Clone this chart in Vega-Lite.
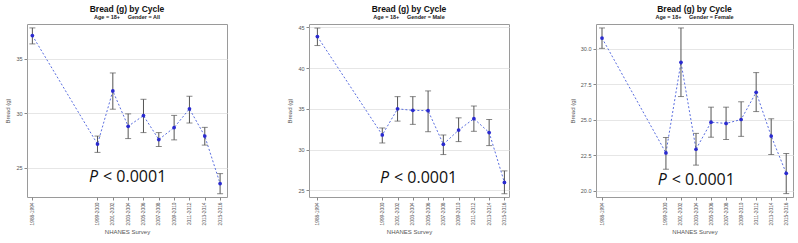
{
  "$schema": "https://vega.github.io/schema/vega-lite/v6.json",
  "background": "white",
  "padding": {"left": 4, "top": 4, "right": 2, "bottom": 4},
  "spacing": 58,
  "config": {
    "font": "Liberation Sans",
    "view": {"stroke": "#9a9a9a", "strokeWidth": 1},
    "axis": {"domain": false, "tickColor": "#888", "tickSize": 3, "labelFontSize": 5.5, "labelColor": "#555", "titleFontSize": 6, "titleFontWeight": "normal", "titleColor": "#555", "gridColor": "#e6e6e6", "labelPadding": 2, "labelOverlap": false},
    "title": {"fontSize": 8.5, "fontWeight": "bold", "subtitleFontSize": 5.5, "subtitleFontWeight": "bold", "subtitleColor": "#222", "color": "#111", "offset": 4, "subtitlePadding": 1, "anchor": "middle"}
  },
  "datasets": {
    "bread": [
      {"panel": "All", "cycle": "1988-1994", "mid": 1991, "mean": 37.14, "lo": 36.37, "hi": 37.84},
      {"panel": "All", "cycle": "1999-2000", "mid": 1999.5, "mean": 27.16, "lo": 26.4, "hi": 27.9},
      {"panel": "All", "cycle": "2001-2002", "mid": 2001.5, "mean": 32.05, "lo": 30.37, "hi": 33.7},
      {"panel": "All", "cycle": "2003-2004", "mid": 2003.5, "mean": 28.8, "lo": 27.67, "hi": 29.94},
      {"panel": "All", "cycle": "2005-2006", "mid": 2005.5, "mean": 29.78, "lo": 28.22, "hi": 31.28},
      {"panel": "All", "cycle": "2007-2008", "mid": 2007.5, "mean": 27.58, "lo": 26.94, "hi": 28.22},
      {"panel": "All", "cycle": "2009-2010", "mid": 2009.5, "mean": 28.68, "lo": 27.55, "hi": 29.8},
      {"panel": "All", "cycle": "2011-2012", "mid": 2011.5, "mean": 30.4, "lo": 29.1, "hi": 31.56},
      {"panel": "All", "cycle": "2013-2014", "mid": 2013.5, "mean": 27.9, "lo": 27.07, "hi": 28.7},
      {"panel": "All", "cycle": "2015-2016", "mid": 2015.5, "mean": 23.53, "lo": 22.6, "hi": 24.45},
      {"panel": "Male", "cycle": "1988-1994", "mid": 1991, "mean": 43.86, "lo": 42.76, "hi": 44.9},
      {"panel": "Male", "cycle": "1999-2000", "mid": 1999.5, "mean": 31.8, "lo": 30.82, "hi": 32.66},
      {"panel": "Male", "cycle": "2001-2002", "mid": 2001.5, "mean": 35.0, "lo": 33.5, "hi": 36.5},
      {"panel": "Male", "cycle": "2003-2004", "mid": 2003.5, "mean": 34.82, "lo": 33.1, "hi": 36.5},
      {"panel": "Male", "cycle": "2005-2006", "mid": 2005.5, "mean": 34.78, "lo": 32.2, "hi": 37.2},
      {"panel": "Male", "cycle": "2007-2008", "mid": 2007.5, "mean": 30.66, "lo": 29.4, "hi": 31.8},
      {"panel": "Male", "cycle": "2009-2010", "mid": 2009.5, "mean": 32.4, "lo": 30.99, "hi": 33.9},
      {"panel": "Male", "cycle": "2011-2012", "mid": 2011.5, "mean": 33.8, "lo": 32.25, "hi": 35.35},
      {"panel": "Male", "cycle": "2013-2014", "mid": 2013.5, "mean": 32.1, "lo": 30.5, "hi": 33.7},
      {"panel": "Male", "cycle": "2015-2016", "mid": 2015.5, "mean": 25.98, "lo": 24.6, "hi": 27.4},
      {"panel": "Female", "cycle": "1988-1994", "mid": 1991, "mean": 30.77, "lo": 30.04, "hi": 31.48},
      {"panel": "Female", "cycle": "1999-2000", "mid": 1999.5, "mean": 22.66, "lo": 21.51, "hi": 23.75},
      {"panel": "Female", "cycle": "2001-2002", "mid": 2001.5, "mean": 29.06, "lo": 26.64, "hi": 31.48},
      {"panel": "Female", "cycle": "2003-2004", "mid": 2003.5, "mean": 22.92, "lo": 21.8, "hi": 24.04},
      {"panel": "Female", "cycle": "2005-2006", "mid": 2005.5, "mean": 24.83, "lo": 23.77, "hi": 25.89},
      {"panel": "Female", "cycle": "2007-2008", "mid": 2007.5, "mean": 24.74, "lo": 23.61, "hi": 25.89},
      {"panel": "Female", "cycle": "2009-2010", "mid": 2009.5, "mean": 25.02, "lo": 23.83, "hi": 26.27},
      {"panel": "Female", "cycle": "2011-2012", "mid": 2011.5, "mean": 26.94, "lo": 25.58, "hi": 28.33},
      {"panel": "Female", "cycle": "2013-2014", "mid": 2013.5, "mean": 23.85, "lo": 22.55, "hi": 25.07},
      {"panel": "Female", "cycle": "2015-2016", "mid": 2015.5, "mean": 21.22, "lo": 19.79, "hi": 22.62}
    ],
    "pval": [
      {"panel": "All", "px": 1998.4, "py": 23.68, "p": "P", "rest": "< 0.0001"},
      {"panel": "Male", "px": 1999.2, "py": 25.9, "p": "P", "rest": "< 0.0001"},
      {"panel": "Female", "px": 1998.4, "py": 20.37, "p": "P", "rest": "< 0.0001"}
    ]
  },
  "hconcat": [
    {
      "width": 200, "height": 173,
      "title": {"text": "Bread (g) by Cycle", "subtitle": "Age = 18+\u00a0\u00a0\u00a0\u00a0\u00a0Gender = All"},
      "layer": [
        {
          "data": {"name": "bread"},
          "transform": [{"filter": "datum.panel === 'All'"}],
          "mark": {"type": "line", "color": "#5a6ee0", "strokeDash": [2, 2], "strokeWidth": 1},
          "encoding": {
            "x": {"field": "mid", "type": "quantitative", "title": "NHANES Survey", "scale": {"domain": [1990.3, 2016.4], "nice": false, "zero": false},
              "axis": {"values": [1991, 1999.5, 2001.5, 2003.5, 2005.5, 2007.5, 2009.5, 2011.5, 2013.5, 2015.5], "tickCount": 30, "labelFontSize": 4.8, "labelAngle": -90, "labelOverlap": false, "labelBound": false, "labelFlush": false, "labelExpr": "datum.value == 1991 ? '1988-1994' : (floor(datum.value) + '-' + (floor(datum.value) + 1))", "grid": false, "titlePadding": 4}},
            "y": {"field": "mean", "type": "quantitative", "title": "Bread (g)", "scale": {"domain": [22.3, 38.2], "nice": false, "zero": false},
              "axis": {"values": [25, 30, 35], "grid": true, "titlePadding": 5}}
          }
        },
        {
          "data": {"name": "bread"},
          "transform": [{"filter": "datum.panel === 'All'"}],
          "mark": {"type": "errorbar", "ticks": {"size": 6}, "color": "#555", "thickness": 1},
          "encoding": {
            "x": {"field": "mid", "type": "quantitative", "title": "NHANES Survey"},
            "y": {"field": "lo", "type": "quantitative", "title": "Bread (g)"},
            "y2": {"field": "hi"}
          }
        },
        {
          "data": {"name": "bread"},
          "transform": [{"filter": "datum.panel === 'All'"}],
          "mark": {"type": "point", "filled": true, "color": "#2a2ad0", "opacity": 1, "size": 14},
          "encoding": {
            "x": {"field": "mid", "type": "quantitative", "title": "NHANES Survey"},
            "y": {"field": "mean", "type": "quantitative", "title": "Bread (g)"}
          }
        },
        {
          "data": {"name": "pval"},
          "transform": [{"filter": "datum.panel === 'All'"}],
          "mark": {"type": "text", "align": "left", "baseline": "alphabetic", "fontSize": 16, "fontStyle": "italic", "font": "Open Sans", "color": "#111"},
          "encoding": {"x": {"field": "px", "type": "quantitative", "title": "NHANES Survey"}, "y": {"field": "py", "type": "quantitative", "title": "Bread (g)"}, "text": {"field": "p"}}
        },
        {
          "data": {"name": "pval"},
          "transform": [{"filter": "datum.panel === 'All'"}],
          "mark": {"type": "text", "align": "left", "baseline": "alphabetic", "fontSize": 16, "font": "Open Sans", "color": "#111", "dx": 14},
          "encoding": {"x": {"field": "px", "type": "quantitative", "title": "NHANES Survey"}, "y": {"field": "py", "type": "quantitative", "title": "Bread (g)"}, "text": {"field": "rest"}}
        }
      ]
    },
    {
      "width": 200, "height": 173,
      "title": {"text": "Bread (g) by Cycle", "subtitle": "Age = 18+\u00a0\u00a0\u00a0\u00a0\u00a0Gender = Male"},
      "layer": [
        {
          "data": {"name": "bread"},
          "transform": [{"filter": "datum.panel === 'Male'"}],
          "mark": {"type": "line", "color": "#5a6ee0", "strokeDash": [2, 2], "strokeWidth": 1},
          "encoding": {
            "x": {"field": "mid", "type": "quantitative", "title": "NHANES Survey", "scale": {"domain": [1989.9, 2016.1], "nice": false, "zero": false},
              "axis": {"values": [1991, 1999.5, 2001.5, 2003.5, 2005.5, 2007.5, 2009.5, 2011.5, 2013.5, 2015.5], "tickCount": 30, "labelFontSize": 4.8, "labelAngle": -90, "labelOverlap": false, "labelBound": false, "labelFlush": false, "labelExpr": "datum.value == 1991 ? '1988-1994' : (floor(datum.value) + '-' + (floor(datum.value) + 1))", "grid": false, "titlePadding": 4}},
            "y": {"field": "mean", "type": "quantitative", "title": "Bread (g)", "scale": {"domain": [24.2, 45.4], "nice": false, "zero": false},
              "axis": {"values": [25, 30, 35, 40, 45], "grid": true, "titlePadding": 5}}
          }
        },
        {
          "data": {"name": "bread"},
          "transform": [{"filter": "datum.panel === 'Male'"}],
          "mark": {"type": "errorbar", "ticks": {"size": 6}, "color": "#555", "thickness": 1},
          "encoding": {
            "x": {"field": "mid", "type": "quantitative", "title": "NHANES Survey"},
            "y": {"field": "lo", "type": "quantitative", "title": "Bread (g)"},
            "y2": {"field": "hi"}
          }
        },
        {
          "data": {"name": "bread"},
          "transform": [{"filter": "datum.panel === 'Male'"}],
          "mark": {"type": "point", "filled": true, "color": "#2a2ad0", "opacity": 1, "size": 14},
          "encoding": {
            "x": {"field": "mid", "type": "quantitative", "title": "NHANES Survey"},
            "y": {"field": "mean", "type": "quantitative", "title": "Bread (g)"}
          }
        },
        {
          "data": {"name": "pval"},
          "transform": [{"filter": "datum.panel === 'Male'"}],
          "mark": {"type": "text", "align": "left", "baseline": "alphabetic", "fontSize": 16, "fontStyle": "italic", "font": "Open Sans", "color": "#111"},
          "encoding": {"x": {"field": "px", "type": "quantitative", "title": "NHANES Survey"}, "y": {"field": "py", "type": "quantitative", "title": "Bread (g)"}, "text": {"field": "p"}}
        },
        {
          "data": {"name": "pval"},
          "transform": [{"filter": "datum.panel === 'Male'"}],
          "mark": {"type": "text", "align": "left", "baseline": "alphabetic", "fontSize": 16, "font": "Open Sans", "color": "#111", "dx": 14},
          "encoding": {"x": {"field": "px", "type": "quantitative", "title": "NHANES Survey"}, "y": {"field": "py", "type": "quantitative", "title": "Bread (g)"}, "text": {"field": "rest"}}
        }
      ]
    },
    {
      "width": 197, "height": 173,
      "title": {"text": "Bread (g) by Cycle", "subtitle": "Age = 18+\u00a0\u00a0\u00a0\u00a0\u00a0Gender = Female"},
      "layer": [
        {
          "data": {"name": "bread"},
          "transform": [{"filter": "datum.panel === 'Female'"}],
          "mark": {"type": "line", "color": "#5a6ee0", "strokeDash": [2, 2], "strokeWidth": 1},
          "encoding": {
            "x": {"field": "mid", "type": "quantitative", "title": "NHANES Survey", "scale": {"domain": [1990.2, 2016.4], "nice": false, "zero": false},
              "axis": {"values": [1991, 1999.5, 2001.5, 2003.5, 2005.5, 2007.5, 2009.5, 2011.5, 2013.5, 2015.5], "tickCount": 30, "labelFontSize": 4.8, "labelAngle": -90, "labelOverlap": false, "labelBound": false, "labelFlush": false, "labelExpr": "datum.value == 1991 ? '1988-1994' : (floor(datum.value) + '-' + (floor(datum.value) + 1))", "grid": false, "titlePadding": 4}},
            "y": {"field": "mean", "type": "quantitative", "title": "Bread (g)", "scale": {"domain": [19.55, 31.76], "nice": false, "zero": false},
              "axis": {"values": [20, 22.5, 25, 27.5, 30], "format": ".1f", "grid": true, "titlePadding": 5}}
          }
        },
        {
          "data": {"name": "bread"},
          "transform": [{"filter": "datum.panel === 'Female'"}],
          "mark": {"type": "errorbar", "ticks": {"size": 6}, "color": "#555", "thickness": 1},
          "encoding": {
            "x": {"field": "mid", "type": "quantitative", "title": "NHANES Survey"},
            "y": {"field": "lo", "type": "quantitative", "title": "Bread (g)"},
            "y2": {"field": "hi"}
          }
        },
        {
          "data": {"name": "bread"},
          "transform": [{"filter": "datum.panel === 'Female'"}],
          "mark": {"type": "point", "filled": true, "color": "#2a2ad0", "opacity": 1, "size": 14},
          "encoding": {
            "x": {"field": "mid", "type": "quantitative", "title": "NHANES Survey"},
            "y": {"field": "mean", "type": "quantitative", "title": "Bread (g)"}
          }
        },
        {
          "data": {"name": "pval"},
          "transform": [{"filter": "datum.panel === 'Female'"}],
          "mark": {"type": "text", "align": "left", "baseline": "alphabetic", "fontSize": 16, "fontStyle": "italic", "font": "Open Sans", "color": "#111"},
          "encoding": {"x": {"field": "px", "type": "quantitative", "title": "NHANES Survey"}, "y": {"field": "py", "type": "quantitative", "title": "Bread (g)"}, "text": {"field": "p"}}
        },
        {
          "data": {"name": "pval"},
          "transform": [{"filter": "datum.panel === 'Female'"}],
          "mark": {"type": "text", "align": "left", "baseline": "alphabetic", "fontSize": 16, "font": "Open Sans", "color": "#111", "dx": 14},
          "encoding": {"x": {"field": "px", "type": "quantitative", "title": "NHANES Survey"}, "y": {"field": "py", "type": "quantitative", "title": "Bread (g)"}, "text": {"field": "rest"}}
        }
      ]
    }
  ]
}
